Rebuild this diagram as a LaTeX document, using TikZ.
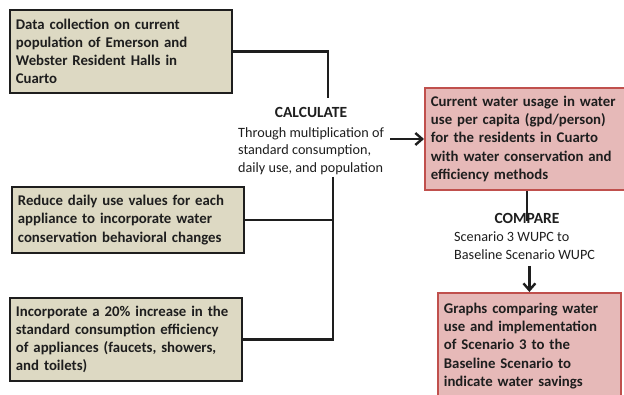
\documentclass[tikz,border=0pt]{standalone}
\usepackage{fontspec}
\setmainfont{Carlito}
\usepackage{xcolor}
\definecolor{tan}{HTML}{DDD9C3}
\definecolor{rose}{HTML}{E6B9B8}
\definecolor{brick}{HTML}{C0504D}
\definecolor{ink}{HTML}{1E1E1E}
\usepackage{tikz}
\usetikzlibrary{arrows.meta,positioning}

\begin{document}
\begin{tikzpicture}[
  x=1pt, y=-1pt,
  box/.style={anchor=north west, align=left, inner xsep=6pt, inner ysep=0pt,
    font=\fontsize{14.8}{18.3}\selectfont\bfseries, text=ink},
  databox/.style={box, draw=ink, line width=1.8pt, fill=tan},
  resultbox/.style={box, draw=brick, line width=1.8pt, fill=rose},
  title/.style={font=\fontsize{15.5}{16}\selectfont\bfseries, text=ink, inner sep=0pt},
  note/.style={font=\fontsize{14.2}{17.5}\selectfont, text=ink, align=left, inner sep=0pt},
  link/.style={line width=2.4pt, ink},
  arr/.style={-{Straight Barb[length=2.4mm, width=4.2mm]}, line width=2.4pt, ink}
]
\useasboundingbox (0,0) rectangle (624,395);

% input boxes
\node[databox, minimum width=222pt, minimum height=83pt, text width=210pt] (data) at (9,9)
  {Data collection on current\\population of Emerson and\\Webster Resident Halls in\\Cuarto};
\node[databox, minimum width=232pt, minimum height=66pt, text width=220pt] (reduce) at (11,186)
  {Reduce daily use values for each\\appliance to incorporate water\\conservation behavioral changes};
\node[databox, minimum width=232pt, minimum height=83pt, text width=220pt] (incorp) at (9,297)
  {Incorporate a 20\% increase in the\\standard consumption efficiency\\of appliances (faucets, showers,\\and toilets)};

% calculate step
\node[title] (calc) at (311,112) {CALCULATE};
\node[note, anchor=north west] (calcnote) at (238,127)
  {Through multiplication of\\standard consumption,\\daily use, and population};

% results
\node[resultbox, minimum width=212pt, minimum height=102pt, text width=200pt] (usage) at (424,87)
  {Current water usage in water\\use per capita (gpd/person)\\for the residents in Cuarto\\with water conservation and\\efficiency methods};
\node[title] (compare) at (527,218) {COMPARE};
\node[note, anchor=north west] (comparenote) at (454,232)
  {Scenario 3 WUPC to\\Baseline Scenario WUPC};
\node[resultbox, minimum width=183pt, minimum height=106pt, text width=171pt] (graphs) at (437,292)
  {Graphs comparing water\\use and implementation\\of Scenario 3 to the\\Baseline Scenario to\\indicate water savings};

% connectors
\coordinate (jtop) at (328,98);
\coordinate (jbot) at (333,177);
\draw[link] (data.east) -| (jtop);
\draw[link] (jbot) |- (incorp.east);
\draw[link] (reduce.east) -- (reduce.east -| jbot);
\draw[arr] ([xshift=6pt]calcnote.east |- 0,139) -- (usage.west |- 0,139);
\draw[link] (usage.south -| compare) -- ([yshift=-8pt]compare.north);
\draw[arr] ([yshift=-6pt]graphs.north |- comparenote.south) -- (graphs.north);

\end{tikzpicture}
\end{document}
